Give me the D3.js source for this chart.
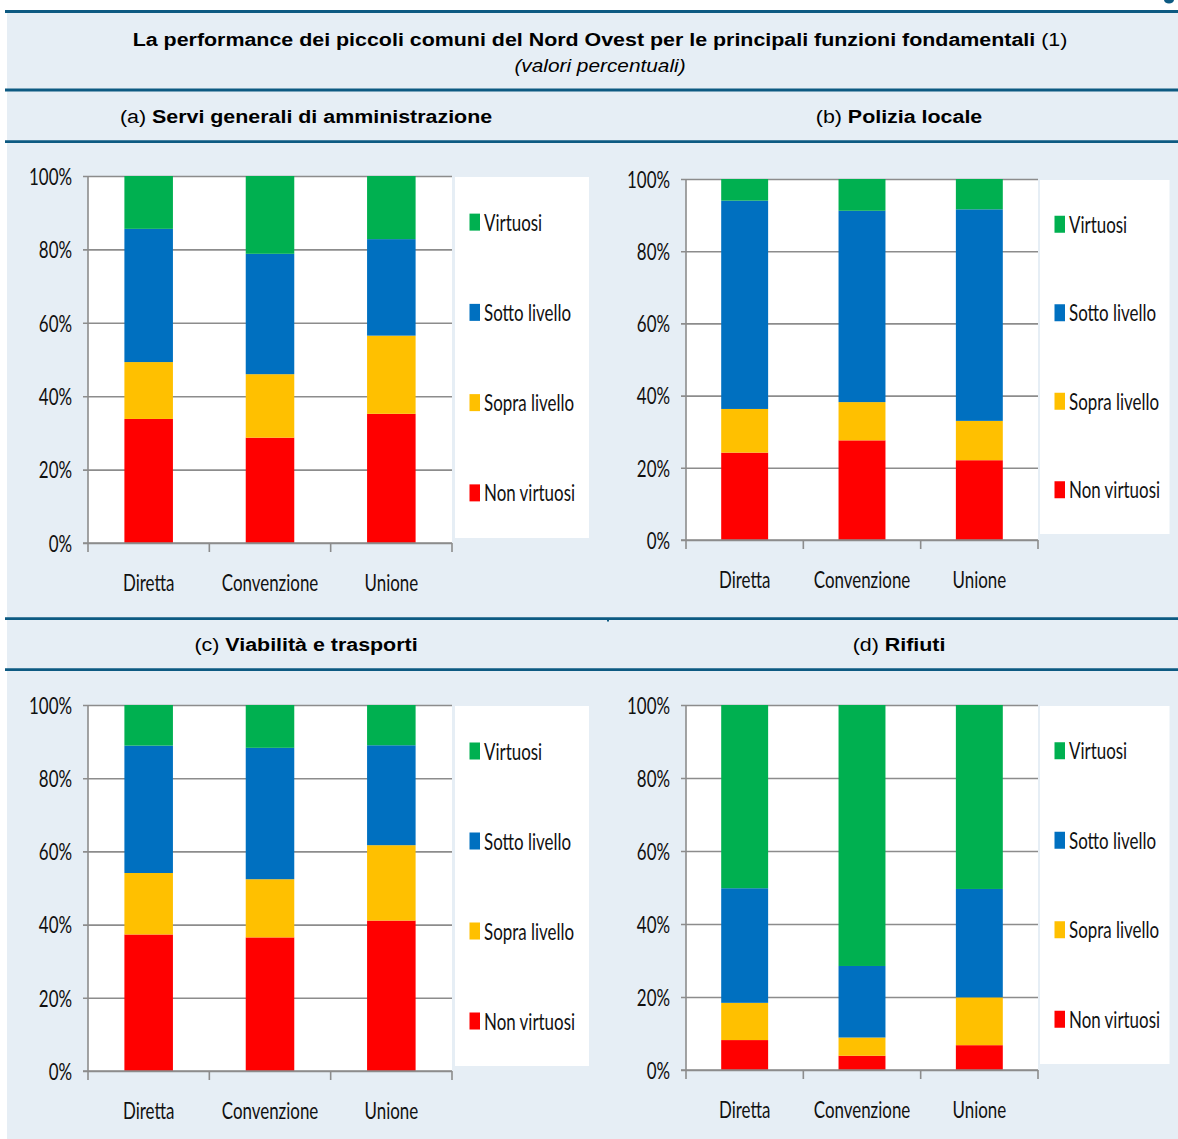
<!DOCTYPE html>
<html>
<head>
<meta charset="utf-8">
<script src="https://cdn.jsdelivr.net/npm/d3@7"></script>
<style>
  body { margin: 0; background: #ffffff; }
  svg { display: block; }
</style>
</head>
<body>
<svg id="chart" width="1178" height="1139"></svg>
<script>
// ---- data -------------------------------------------------------------
const categories = ["Diretta", "Convenzione", "Unione"];
const seriesNames = ["Non virtuosi", "Sopra livello", "Sotto livello", "Virtuosi"];
const seriesColors = ["#ff0000", "#ffc000", "#0070c0", "#00b050"];
const yTicks = [0, 20, 40, 60, 80, 100];
const yTickLabels = ["0%", "20%", "40%", "60%", "80%", "100%"];

// shares in %, one row per series (same order as seriesNames), one column per category
const amministrazione = [
  [33.8, 28.7, 35.2],
  [15.5, 17.3, 21.3],
  [36.3, 32.8, 26.3],
  [14.4, 21.2, 17.2]
];
const polizia = [
  [24.2, 27.6, 22.1],
  [12.1, 10.6, 10.9],
  [57.7, 53.0, 58.6],
  [6.0, 8.8, 8.4]
];
const viabilita = [
  [37.3, 36.5, 41.1],
  [16.8, 15.9, 20.6],
  [34.8, 35.9, 27.3],
  [11.1, 11.7, 11.0]
];
const rifiuti = [
  [8.2, 3.9, 6.8],
  [10.2, 5.0, 13.1],
  [31.4, 19.6, 29.7],
  [50.2, 71.5, 50.4]
];

const mainTitle = "La performance dei piccoli comuni del Nord Ovest per le principali funzioni fondamentali";
const mainNote = " (1)";
const subTitle = "(valori percentuali)";
const panelLetters = ["(a) ", "(b) ", "(c) ", "(d) "];
const panelNames = ["Servi generali di amministrazione", "Polizia locale", "Viabilità e trasporti", "Rifiuti"];

// ---- layout ------------------------------------------------------------
const BG = "#e6eef5";
const RULE = "#0d5a82";
const GRID = "#8c8c8c";
const HEAD_FONT = "'Liberation Sans', Arial, sans-serif";
const HEAD_SIZE = 18;
const HEAD_SX = 1.19;      // horizontal stretch of the heading glyphs
const LABEL_FONT = "Lato, 'Open Sans', sans-serif";
const LABEL_SIZE = 23.5;
const LABEL_SX = 0.72;     // horizontal squeeze of the label glyphs

const panels = [
  { values: amministrazione, tx: 306, ty: 122.5, plot: { x0: 88, x1: 452, y0: 176, y1: 543 }, legend: { x: 455, y: 177, w: 134, h: 361 } },
  { values: polizia,         tx: 899, ty: 122.5, plot: { x0: 686, x1: 1038, y0: 179, y1: 540 }, legend: { x: 1040, y: 180, w: 129.5, h: 354 } },
  { values: viabilita,       tx: 306, ty: 650.5, plot: { x0: 88, x1: 452, y0: 705, y1: 1071 }, legend: { x: 455, y: 706, w: 134, h: 360 } },
  { values: rifiuti,         tx: 899, ty: 650.5, plot: { x0: 686, x1: 1038, y0: 705, y1: 1070 }, legend: { x: 1040, y: 706, w: 129.5, h: 358 } }
];

const svg = d3.select("#chart");

// background band and rules
svg.append("rect").attr("x", 7).attr("y", 12).attr("width", 1171).attr("height", 1127).attr("fill", BG);
[[11.5, 3.2], [90, 2.8], [141.6, 2.8], [618.7, 2.7], [669.6, 2.7]].forEach(([y, w]) => {
  svg.append("line").attr("x1", 5).attr("x2", 1178).attr("y1", y).attr("y2", y)
    .attr("stroke", RULE).attr("stroke-width", w);
});
svg.append("rect").attr("x", 607).attr("y", 619.5).attr("width", 2).attr("height", 2).attr("fill", RULE);
svg.append("ellipse").attr("cx", 1169).attr("cy", 0).attr("rx", 5).attr("ry", 3.5).attr("fill", RULE);

function headingText(g, x, y, size) {
  return g.append("text")
    .attr("transform", `translate(${x},${y}) scale(${HEAD_SX},1)`)
    .attr("text-anchor", "middle")
    .attr("font-family", HEAD_FONT).attr("font-size", size).attr("fill", "#000");
}

// main title
const t1 = headingText(svg, 600, 46, HEAD_SIZE);
t1.append("tspan").attr("font-weight", "bold").text(mainTitle);
t1.append("tspan").text(mainNote);
headingText(svg, 600, 72, 17.5).attr("font-style", "italic").text(subTitle);

function squeezedText(g, x, y, str, anchor) {
  return g.append("text")
    .attr("transform", `translate(${x},${y}) scale(${LABEL_SX},1)`)
    .attr("text-anchor", anchor)
    .attr("font-family", LABEL_FONT).attr("font-size", LABEL_SIZE).attr("fill", "#111")
    .text(str);
}

panels.forEach((p, pi) => {
  const g = svg.append("g");

  // panel heading
  const ht = headingText(g, p.tx, p.ty, HEAD_SIZE);
  ht.append("tspan").text(panelLetters[pi]);
  ht.append("tspan").attr("font-weight", "bold").text(panelNames[pi]);

  const { x0, x1, y0, y1 } = p.plot;
  const x = d3.scaleBand().domain(categories).range([x0, x1]).paddingInner(0.6).paddingOuter(0.3);
  const y = d3.scaleLinear().domain([0, 100]).range([y1, y0]);

  // plot area
  g.append("rect").attr("x", x0).attr("y", y0).attr("width", x1 - x0).attr("height", y1 - y0).attr("fill", "#fff");

  // gridlines + y labels
  const yAxis = g.append("g").attr("transform", `translate(${x0 - 5},0)`)
    .call(d3.axisLeft(y).tickValues(yTicks).tickSizeInner(-(x1 - x0 + 5)).tickSizeOuter(0)
      .tickFormat((d, i) => yTickLabels[i]));
  yAxis.select(".domain").remove();
  yAxis.selectAll(".tick line").attr("stroke", GRID).attr("stroke-width", 1.6);
  yAxis.selectAll(".tick text").remove();
  yAxis.selectAll(".tick").each(function (d, i) {
    squeezedText(d3.select(this), -11, 8.3, yTickLabels[i], "end");
  });

  // stacked bars
  const rows = categories.map((c, ci) => {
    const r = { cat: c };
    seriesNames.forEach((s, si) => { r[s] = p.values[si][ci]; });
    return r;
  });
  const stacked = d3.stack().keys(seriesNames)(rows);
  g.selectAll("g.series").data(stacked).join("g").attr("class", "series")
    .attr("fill", (d, i) => seriesColors[i])
    .selectAll("rect").data(d => d).join("rect")
    .attr("x", d => x(d.data.cat))
    .attr("width", x.bandwidth())
    .attr("y", d => y(d[1]))
    .attr("height", d => y(d[0]) - y(d[1]));

  // axes lines
  g.append("line").attr("x1", x0).attr("x2", x0).attr("y1", y0).attr("y2", y1 + 9)
    .attr("stroke", GRID).attr("stroke-width", 1.6);
  g.append("line").attr("x1", x0 - 5).attr("x2", x1).attr("y1", y1).attr("y2", y1)
    .attr("stroke", GRID).attr("stroke-width", 1.6);
  const step = x.step();
  d3.range(1, categories.length + 1).forEach(i => {
    const xx = x0 + i * step;
    g.append("line").attr("x1", xx).attr("x2", xx).attr("y1", y1).attr("y2", y1 + 9)
      .attr("stroke", GRID).attr("stroke-width", 1.6);
  });

  // category labels
  const xAxis = g.append("g").attr("transform", `translate(0,${y1})`)
    .call(d3.axisBottom(x).tickSize(0));
  xAxis.select(".domain").remove();
  xAxis.selectAll(".tick text").remove();
  xAxis.selectAll(".tick").each(function (d) {
    squeezedText(d3.select(this), 0, 48, d, "middle");
  });

  // legend
  const L = p.legend;
  g.append("rect").attr("x", L.x).attr("y", L.y).attr("width", L.w).attr("height", L.h).attr("fill", "#fff");
  const order = seriesNames.map((s, i) => i).reverse();
  order.forEach((si, k) => {
    const cy = L.y + L.h * (0.125 + k * 0.25);
    const base = cy + 8.5;
    g.append("rect").attr("x", L.x + 14.5).attr("y", base - 17).attr("width", 10.5).attr("height", 17)
      .attr("fill", seriesColors[si]);
    squeezedText(g, L.x + 29, base, seriesNames[si], "start");
  });
});
</script>
</body>
</html>
